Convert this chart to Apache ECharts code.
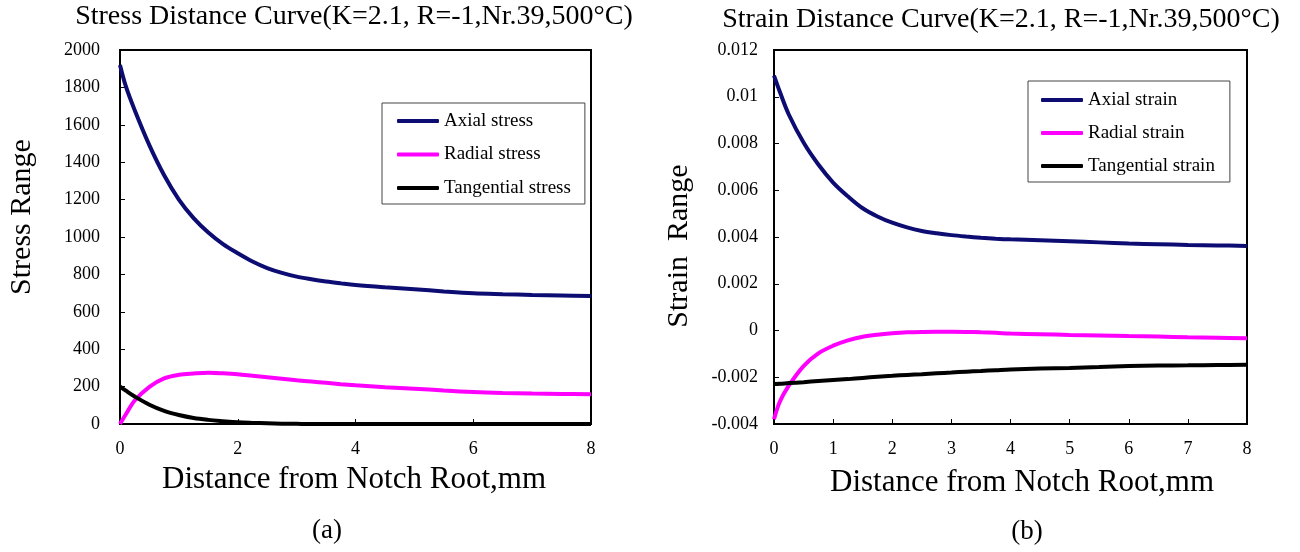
<!DOCTYPE html>
<html>
<head>
<meta charset="utf-8">
<title>Stress / Strain Distance Curve</title>
<script src="https://cdn.jsdelivr.net/npm/echarts/dist/echarts.min.js"></script>
<style>
    html, body { margin: 0; padding: 0; background: #fff; }
    #main { width: 1300px; height: 552px; }
</style>
</head>
<body>
<div id="main"></div>
<script>
// distance from notch root, mm
const distance = [0, 0.1, 0.25, 0.5, 0.75, 1, 1.25, 1.5, 1.75, 2, 2.25, 2.5, 2.75, 3, 3.25, 3.5, 3.75, 4, 4.5, 5, 5.5, 6, 6.5, 7, 7.5, 8];

// (a) stress range
const axialStress      = [1920, 1805, 1678, 1490, 1330, 1200, 1101, 1024, 962, 913, 869, 834, 808, 788, 774, 762, 752, 743, 731, 721, 709, 699, 694, 690, 687, 684];
const radialStress     = [0, 52, 126, 199, 244, 263, 270, 274, 271, 266, 258, 250, 242, 234, 227, 220, 213, 207, 197, 189, 179, 171, 166, 163, 161, 159];
const tangentialStress = [200, 178, 147, 103, 70, 48, 32, 22, 15, 9, 6, 4, 2, 1, 0, 0, 0, 0, 0, 0, 0, 0, 0, 0, 0, 0];

// (b) strain range
const axialStrain      = [0.0109, 0.0102, 0.00924, 0.00804, 0.0071, 0.00633, 0.00574, 0.00523, 0.00488, 0.00461, 0.00441, 0.00426, 0.00416, 0.00408, 0.00402, 0.00397, 0.00393, 0.0039, 0.00386, 0.00382, 0.00377, 0.00372, 0.00369, 0.00366, 0.00364, 0.00362];
const radialStrain     = [-0.0038, -0.00304, -0.00236, -0.00152, -0.00098, -0.00065, -0.00042, -0.00027, -0.00018, -0.00012, -0.00008, -0.00006, -0.00005, -0.00005, -0.00006, -0.00008, -0.0001, -0.00013, -0.00016, -0.00019, -0.00021, -0.00024, -0.00026, -0.00029, -0.00031, -0.00033];
const tangentialStrain = [-0.00229, -0.00228, -0.00225, -0.00221, -0.00216, -0.00212, -0.00208, -0.00203, -0.00198, -0.00194, -0.0019, -0.00187, -0.00183, -0.0018, -0.00176, -0.00173, -0.0017, -0.00167, -0.00163, -0.0016, -0.00156, -0.00152, -0.0015, -0.00149, -0.00148, -0.00147];

const stressNames = ['Axial stress', 'Radial stress', 'Tangential stress'];
const strainNames = ['Axial strain', 'Radial strain', 'Tangential strain'];

const FONT = '"Liberation Serif", "Times New Roman", serif';
const colors = ['#0c0c72', '#ff00ff', '#000000'];

function pairs(ys) {
    return distance.map((x, i) => [x, ys[i]]);
}

function xAxisOf(grid, step) {
    return {
        gridIndex: grid,
        type: 'value',
        min: 0,
        max: 8,
        interval: step,
        // keep the axis at the bottom of the box, not at y = 0
        axisLine: { show: true, onZero: false, lineStyle: { color: '#000', width: 2 } },
        // ticks point into the plot
        axisTick: { inside: true, length: 5, lineStyle: { color: '#000', width: 1 } },
        axisLabel: { margin: 16, fontSize: 18, fontFamily: FONT, color: '#000' },
        splitLine: { show: false }
    };
}

function yAxisOf(grid, min, max, step, margin, fmt) {
    return {
        gridIndex: grid,
        type: 'value',
        min: min,
        max: max,
        interval: step,
        axisLine: { show: true, onZero: false, lineStyle: { color: '#000', width: 2 } },
        axisTick: { inside: true, length: 5, lineStyle: { color: '#000', width: 1 } },
        axisLabel: { margin: margin, fontSize: 18, fontFamily: FONT, color: '#000', formatter: fmt },
        splitLine: { show: false }
    };
}

function lineOf(name, ys, color, grid) {
    return {
        name: name,
        type: 'line',
        xAxisIndex: grid,
        yAxisIndex: grid,
        data: pairs(ys),
        smooth: 0.35,
        symbol: 'none',
        clip: false,
        color: color,
        lineStyle: { color: color, width: 4 }
    };
}

function legendOf(names, left, top, gap, padding) {
    return {
        data: names,
        orient: 'vertical',
        left: left,
        top: top,
        icon: 'roundRect',
        itemWidth: 42,
        itemHeight: 4,
        itemGap: gap,
        padding: padding,
        selectedMode: false,
        backgroundColor: '#fff',
        borderColor: '#444',
        borderWidth: 1,
        borderRadius: 0,
        textStyle: { fontFamily: FONT, fontSize: 19, lineHeight: 20, color: '#000' }
    };
}

function label(text, x, y, size, rotate) {
    return {
        type: 'text',
        x: x,
        y: y,
        rotation: rotate ? Math.PI / 2 : 0,
        style: {
            text: text,
            font: size + 'px ' + FONT,
            fill: '#000',
            align: 'center',
            verticalAlign: 'middle'
        }
    };
}

let myChart = echarts.init(document.getElementById('main'));

myChart.setOption({
    backgroundColor: '#fff',
    animation: false,
    grid: [
        { left: 120, top: 50, width: 471, height: 374, show: true, borderColor: '#000', borderWidth: 2 },
        { left: 774, top: 50, width: 473, height: 374, show: true, borderColor: '#000', borderWidth: 2 }
    ],
    xAxis: [xAxisOf(0, 2), xAxisOf(1, 1)],
    yAxis: [
        yAxisOf(0, 0, 2000, 200, 20, v => String(v)),
        yAxisOf(1, -0.004, 0.012, 0.002, 16, v => String(+v.toFixed(3)))
    ],
    legend: [
        legendOf(stressNames, 382, 103, 13.5, [8, 14, 6, 15]),
        legendOf(strainNames, 1028, 81, 13, [9, 15, 6, 13])
    ],
    graphic: [
        label('Stress Distance Curve(K=2.1, R=-1,Nr.39,500°C)', 354, 17, 28),
        label('Strain Distance Curve(K=2.1, R=-1,Nr.39,500°C)', 1001, 20, 28),
        label('Stress Range', 22, 217, 30, true),
        label('Strain  Range', 679, 246, 30, true),
        label('Distance from Notch Root,mm', 354, 480, 31),
        label('Distance from Notch Root,mm', 1022, 483, 31),
        label('(a)', 327, 531, 27),
        label('(b)', 1027, 532, 27)
    ],
    series: [
        lineOf(stressNames[0], axialStress, colors[0], 0),
        lineOf(stressNames[1], radialStress, colors[1], 0),
        lineOf(stressNames[2], tangentialStress, colors[2], 0),
        lineOf(strainNames[0], axialStrain, colors[0], 1),
        lineOf(strainNames[1], radialStrain, colors[1], 1),
        lineOf(strainNames[2], tangentialStrain, colors[2], 1)
    ]
});

window.addEventListener('resize', () => {
    myChart.resize();
});
</script>
</body>
</html>
